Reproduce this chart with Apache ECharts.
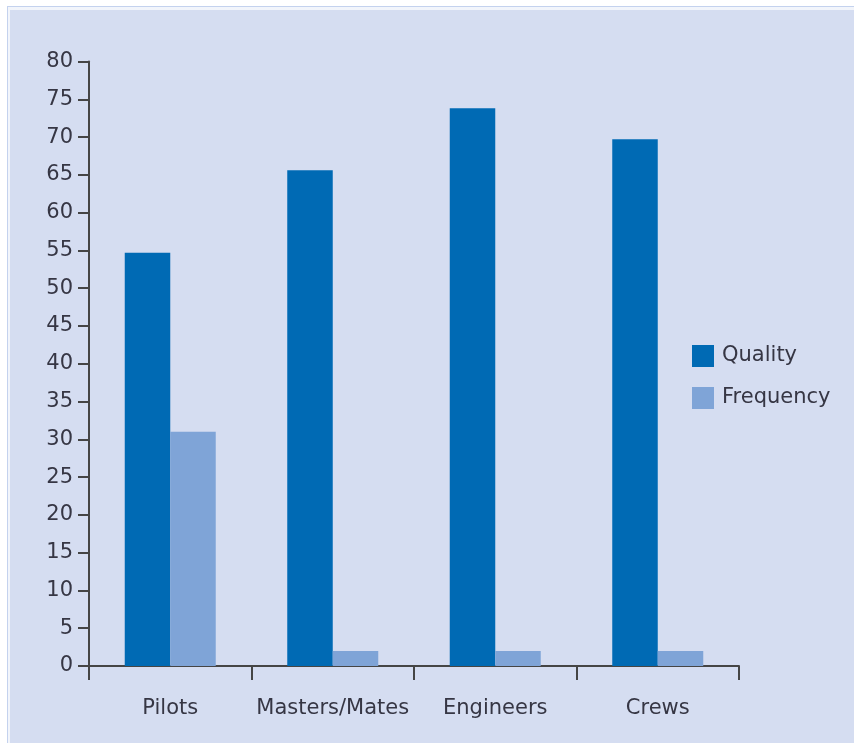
<!DOCTYPE html>
<html>
<head>
<meta charset="utf-8">
<script src="https://cdn.jsdelivr.net/npm/echarts@6/dist/echarts.min.js"></script>
<style>
html,body{margin:0;padding:0;background:#ffffff;width:854px;height:743px;overflow:hidden;}
#frame{position:absolute;left:7px;top:6px;right:0;bottom:0;border-left:1px solid #c4d2ee;border-top:1px solid #c4d2ee;background:#f2f5fb;}
#panel{position:absolute;left:10px;top:10px;right:0;bottom:0;background:#d5ddf1;}
#chart{position:absolute;left:0;top:0;width:854px;height:743px;}
</style>
</head>
<body>
<div id="frame"></div>
<div id="panel"></div>
<div id="chart"></div>
<script>
const categories = ['Pilots', 'Masters/Mates', 'Engineers', 'Crews'];
const qualityValues = [54.7, 65.6, 73.8, 69.7];
const frequencyValues = [31, 2, 2, 2];
const seriesNames = ['Quality', 'Frequency'];

const chart = echarts.init(document.getElementById('chart'), null, {renderer: 'canvas'});
const font = 'DejaVu Sans';
const axisColor = '#454545';
const textColor = '#363644';

chart.setOption({
  backgroundColor: 'transparent',
  animation: false,
  grid: {left: 89, right: 115, top: 61.5, bottom: 77, containLabel: false},
  legend: {
    orient: 'vertical',
    left: 687,
    top: 340,
    itemWidth: 22,
    itemHeight: 22,
    itemGap: 20,
    icon: 'rect',
    data: seriesNames,
    textStyle: {fontFamily: font, fontSize: 21, color: textColor, padding: [0, 0, 0, 3]}
  },
  xAxis: {
    type: 'category',
    data: categories,
    boundaryGap: true,
    axisLine: {lineStyle: {color: axisColor, width: 2}},
    axisTick: {show: true, length: 14, lineStyle: {color: axisColor, width: 2}},
    axisLabel: {fontFamily: font, fontSize: 21, color: textColor, margin: 32, interval: 0},
    splitLine: {show: false}
  },
  yAxis: {
    type: 'value',
    min: 0,
    max: 80,
    interval: 5,
    axisLine: {show: true, lineStyle: {color: axisColor, width: 2}},
    axisTick: {show: true, length: 11, lineStyle: {color: axisColor, width: 2}},
    axisLabel: {fontFamily: font, fontSize: 21, color: textColor, margin: 16},
    splitLine: {show: false}
  },
  series: [
    {
      name: seriesNames[0],
      type: 'bar',
      data: qualityValues,
      barGap: '0%',
      barCategoryGap: '44%',
      itemStyle: {color: '#006ab4'}
    },
    {
      name: seriesNames[1],
      type: 'bar',
      data: frequencyValues,
      barGap: '0%',
      barCategoryGap: '44%',
      itemStyle: {color: '#7fa4d7'}
    }
  ]
});
</script>
</body>
</html>
